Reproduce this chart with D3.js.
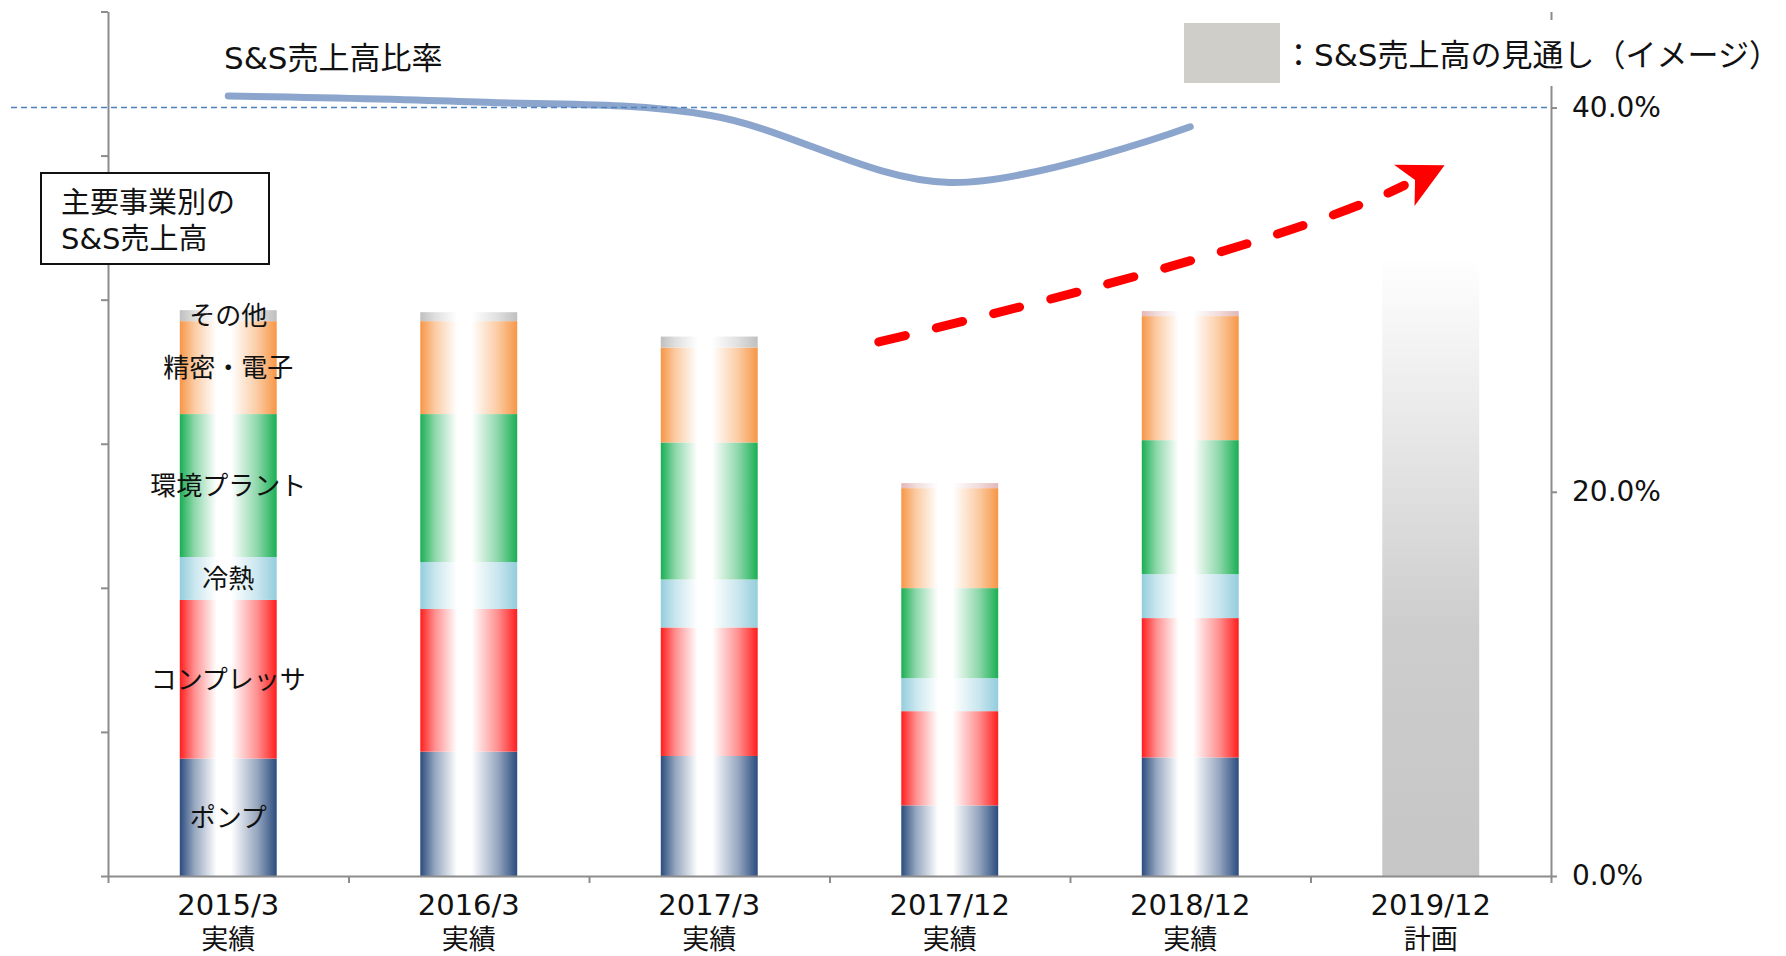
<!DOCTYPE html>
<html lang="ja">
<head>
<meta charset="utf-8">
<script src="https://cdn.jsdelivr.net/npm/d3@7"></script>
<style>
  html, body { margin: 0; padding: 0; background: #ffffff; }
  svg { display: block; }
  text { font-family: "DejaVu Sans", "Noto Sans CJK JP", sans-serif; fill: #111; }
</style>
</head>
<body>
<svg id="chart" width="1786" height="956"></svg>
<script>
// ---- data -------------------------------------------------------------
const categories   = ["2015/3", "2016/3", "2017/3", "2017/12", "2018/12", "2019/12"];
const categoryNote = ["実績", "実績", "実績", "実績", "実績", "計画"];

const actualPeriods = ["2015/3", "2016/3", "2017/3", "2017/12", "2018/12"];
const segmentNames  = ["ポンプ", "コンプレッサ", "冷熱", "環境プラント", "精密・電子", "その他"];
const pump       = [81.5, 86.3, 83.3, 49.0, 82.3];
const compressor = [110.1, 99.0, 89.2, 65.4, 96.7];
const cooling    = [29.8, 32.6, 33.3, 22.9, 30.5];
const plant      = [99.2, 102.7, 95.1, 62.5, 93.0];
const precision  = [64.5, 64.5, 65.9, 69.4, 86.1];
const other      = [7.6, 6.2, 7.6, 3.5, 3.5];

const planPeriods = ["2019/12"];
const planSales   = [430];

const ratioPeriods = ["2015/3", "2016/3", "2017/3", "2017/12", "2018/12"];
const ratioPct     = [40.6, 40.3, 39.6, 36.1, 39.0];

const salesTicks = [0, 100, 200, 300, 400, 500, 600];
const pctTicks   = [0, 20, 40];
const pctGuide   = 40;

// ---- layout -----------------------------------------------------------
const W = 1786, H = 956;
const plot = { left: 108, right: 1551, top: 11.5, bottom: 876 };
const axisColor = "#8c8c8c";

const svg = d3.select("#chart");
const defs = svg.append("defs");

const x = d3.scaleBand()
  .domain(categories)
  .range([plot.left, plot.right])
  .paddingInner(0.597)
  .paddingOuter(0.2985);
const xEdges = d3.scaleLinear().domain([0, categories.length]).range([plot.left, plot.right]);
const ySales = d3.scaleLinear().domain([0, 600]).range([plot.bottom, plot.top]);
const yPct   = d3.scaleLinear().domain([0, 45]).range([plot.bottom, plot.top]);
const cx = c => x(c) + x.bandwidth() / 2;

// ---- segment fills: coloured edges fading to white in the middle -------
const segKeys = ["pump", "compressor", "cooling", "plant", "precision", "other"];
const segColor = {
  pump: "#2b4c7e", compressor: "#ff1e1e", cooling: "#93cddd",
  plant: "#1aaf54", precision: "#f79646", other: "#bfbfbf"
};
const otherTint = { "2017/12": "#e3b7b7", "2018/12": "#e3b7b7" };

function sheen(id, color) {
  const g = defs.append("linearGradient").attr("id", id)
    .attr("x1", 0).attr("x2", 1).attr("y1", 0).attr("y2", 0);
  const mid = d3.interpolateRgb(color, "#ffffff");
  g.append("stop").attr("offset", 0).attr("stop-color", color);
  g.append("stop").attr("offset", 0.15).attr("stop-color", mid(0.5));
  g.append("stop").attr("offset", 0.38).attr("stop-color", "#ffffff");
  g.append("stop").attr("offset", 0.53).attr("stop-color", "#ffffff");
  g.append("stop").attr("offset", 0.8).attr("stop-color", mid(0.5));
  g.append("stop").attr("offset", 1).attr("stop-color", color);
}
segKeys.forEach(k => sheen("sheen-" + k, segColor[k]));
sheen("sheen-other-tint", "#e3b7b7");

const planGrad = defs.append("linearGradient").attr("id", "plan-fade")
  .attr("x1", 0).attr("x2", 0).attr("y1", 0).attr("y2", 1);
planGrad.append("stop").attr("offset", 0).attr("stop-color", "#ffffff");
planGrad.append("stop").attr("offset", 0.6).attr("stop-color", "#cdcdcd");
planGrad.append("stop").attr("offset", 1).attr("stop-color", "#c6c6c6");

// ---- stacked actual bars ---------------------------------------------
const rows = actualPeriods.map((p, i) => ({
  period: p, pump: pump[i], compressor: compressor[i], cooling: cooling[i],
  plant: plant[i], precision: precision[i], other: other[i]
}));
const stacked = d3.stack().keys(segKeys)(rows);

const gBars = svg.append("g");
stacked.forEach(layer => {
  gBars.selectAll(null).data(layer).join("rect")
    .attr("x", d => x(d.data.period))
    .attr("width", x.bandwidth())
    .attr("y", d => ySales(d[1]))
    .attr("height", d => ySales(d[0]) - ySales(d[1]))
    .attr("fill", d => (layer.key === "other" && otherTint[d.data.period])
      ? "url(#sheen-other-tint)" : `url(#sheen-${layer.key})`);
});

// planned bar (outlook image)
gBars.selectAll(null).data(planPeriods.map((p, i) => ({ period: p, v: planSales[i] })))
  .join("rect")
  .attr("x", d => x(d.period))
  .attr("width", x.bandwidth())
  .attr("y", d => ySales(d.v))
  .attr("height", d => ySales(0) - ySales(d.v))
  .attr("fill", "url(#plan-fade)");

// ---- axes ------------------------------------------------------------
function styleAxis(g) {
  g.selectAll("path.domain").attr("stroke", axisColor).attr("stroke-width", 2);
  g.selectAll(".tick line").attr("stroke", axisColor).attr("stroke-width", 2);
}

svg.append("g")
  .attr("transform", `translate(${plot.left},0)`)
  .call(d3.axisLeft(ySales).tickValues(salesTicks).tickSize(7).tickSizeOuter(0).tickFormat(""))
  .call(styleAxis);

const gRight = svg.append("g")
  .attr("transform", `translate(${plot.right},0)`)
  .call(d3.axisRight(yPct).tickValues(pctTicks).tickSize(6).tickSizeOuter(0).tickPadding(15)
    .tickFormat(d => d.toFixed(1) + "%"))
  .call(styleAxis);
gRight.selectAll(".tick text")
  .attr("font-size", 28)
  .attr("font-family", "\"DejaVu Sans\", sans-serif")
  .attr("fill", "#111");

svg.append("g")
  .attr("transform", `translate(0,${plot.bottom})`)
  .call(d3.axisBottom(xEdges).tickValues(d3.range(categories.length + 1)).tickSize(7)
    .tickSizeOuter(0).tickFormat(""))
  .call(styleAxis);

const gXLab = svg.append("g");
categories.forEach((c, i) => {
  gXLab.append("text")
    .attr("x", cx(c)).attr("y", 915)
    .attr("text-anchor", "middle").attr("font-size", 29)
    .text(c);
  gXLab.append("text")
    .attr("x", cx(c)).attr("y", 949)
    .attr("text-anchor", "middle").attr("font-size", 27)
    .text(categoryNote[i]);
});

// ---- S&S sales ratio line ---------------------------------------------
const ratioLine = d3.line()
  .x((d, i) => cx(ratioPeriods[i]))
  .y(d => yPct(d))
  .curve(d3.curveCardinal.tension(0));
svg.append("path")
  .attr("d", ratioLine(ratioPct))
  .attr("fill", "none")
  .attr("stroke", "#8ca5cd")
  .attr("stroke-width", 7)
  .attr("stroke-linecap", "round");

// 40% guide
svg.append("line")
  .attr("x1", 11).attr("x2", plot.right)
  .attr("y1", yPct(pctGuide)).attr("y2", yPct(pctGuide))
  .attr("stroke", "#4f81bd").attr("stroke-width", 1.6)
  .attr("stroke-dasharray", "6 4");

svg.append("text")
  .attr("x", 224).attr("y", 69)
  .attr("font-size", 31)
  .text("S&S売上高比率");

// ---- segment names on the first bar -----------------------------------
const first = actualPeriods[0];
stacked.forEach((layer, k) => {
  const d = layer[0];
  svg.append("text")
    .attr("x", cx(first))
    .attr("y", (ySales(d[0]) + ySales(d[1])) / 2)
    .attr("dy", "0.36em")
    .attr("text-anchor", "middle")
    .attr("font-size", 26)
    .text(segmentNames[k]);
});

// ---- caption box ------------------------------------------------------
svg.append("rect")
  .attr("x", 41).attr("y", 173).attr("width", 228).attr("height", 91)
  .attr("fill", "#ffffff").attr("stroke", "#111").attr("stroke-width", 2);
const cap = svg.append("text").attr("font-size", 29);
cap.append("tspan").attr("x", 61).attr("y", 213).text("主要事業別の");
cap.append("tspan").attr("x", 61).attr("y", 249).text("S&S売上高");

// ---- legend for the outlook bar ---------------------------------------
svg.append("rect")
  .attr("x", 1181).attr("y", 20).attr("width", W - 1181).attr("height", 66)
  .attr("fill", "#ffffff");
svg.append("rect")
  .attr("x", 1184).attr("y", 23).attr("width", 96).attr("height", 60)
  .attr("fill", "#d0cec9");
svg.append("text")
  .attr("x", 1283).attr("y", 66)
  .attr("font-size", 31)
  .text("：S&S売上高の見通し（イメージ）");

// ---- growth arrow towards the plan -------------------------------------
const step = x.step();
const p0 = [cx("2017/12") - 0.295 * step, yPct(27.8)];
const c1 = [cx("2018/12") + 0.40 * step, yPct(32.9)];
const p2 = [cx("2019/12") - 0.11 * step, yPct(35.95)];
const arrowPath = d3.path();
arrowPath.moveTo(p0[0], p0[1]);
arrowPath.quadraticCurveTo(c1[0], c1[1], p2[0], p2[1]);
svg.append("path")
  .attr("d", arrowPath.toString())
  .attr("fill", "none")
  .attr("stroke", "#ff0000")
  .attr("stroke-width", 9)
  .attr("stroke-linecap", "round")
  .attr("stroke-dasharray", "27 32");

// stealth-style head aligned with the curve's end tangent
const dx = p2[0] - c1[0], dy = p2[1] - c1[1];
const len = Math.hypot(dx, dy);
const ux = dx / len, uy = dy / len;
const px = -uy, py = ux;
const headLen = 45, headHalf = 23, notch = 12;
const tip = [p2[0] + ux * headLen, p2[1] + uy * headLen];
const b1 = [p2[0] + px * headHalf, p2[1] + py * headHalf];
const b2 = [p2[0] - px * headHalf, p2[1] - py * headHalf];
const nk = [p2[0] + ux * notch, p2[1] + uy * notch];
svg.append("path")
  .attr("d", `M${tip}L${b1}L${nk}L${b2}Z`)
  .attr("fill", "#ff0000");
</script>
</body>
</html>
